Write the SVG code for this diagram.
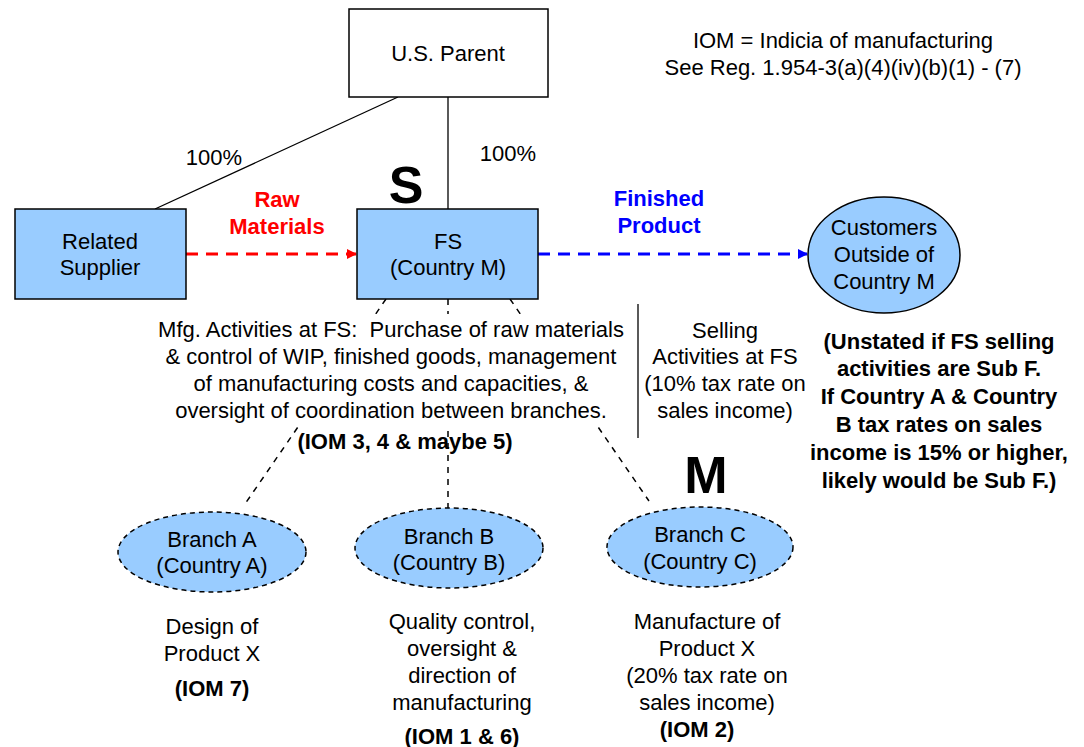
<svg xmlns="http://www.w3.org/2000/svg" width="1084" height="747" viewBox="0 0 1084 747">
<defs>
<style>
text{font-family:"Liberation Sans",Arial,sans-serif;font-size:22px;text-anchor:middle;fill:#000}
.b{font-weight:bold}
.big{font-weight:bold;font-size:52px}
.box{fill:#99CCFF;stroke:#000;stroke-width:1.5}
.dbox{fill:#99CCFF;stroke:#000;stroke-width:1.5;stroke-dasharray:5,4}
.ln{stroke:#000;stroke-width:1.3;fill:none}
.dl{stroke:#000;stroke-width:1.5;fill:none;stroke-dasharray:6,6}
</style>
<marker id="ar" markerWidth="10" markerHeight="10" refX="9" refY="5" orient="auto" markerUnits="userSpaceOnUse"><path d="M0,0L10,5L0,10z" fill="#FF0000"/></marker>
<marker id="ab" markerWidth="10" markerHeight="10" refX="9" refY="5" orient="auto" markerUnits="userSpaceOnUse"><path d="M0,0L10,5L0,10z" fill="#0000FF"/></marker>
</defs>
<rect width="1084" height="747" fill="#fff"/>
<g id="connectors">
<line class="ln" x1="398" y1="97" x2="155" y2="209"/>
<line class="ln" x1="448" y1="97" x2="448" y2="209"/>
<line x1="186" y1="254" x2="356" y2="254" stroke="#FF0000" stroke-width="3" stroke-dasharray="12,8" marker-end="url(#ar)"/>
<line x1="538" y1="254" x2="807" y2="254" stroke="#0000FF" stroke-width="3" stroke-dasharray="12,8" marker-end="url(#ab)"/>
<line class="dl" x1="386" y1="299" x2="245" y2="504"/>
<line class="dl" x1="448" y1="299" x2="448" y2="508"/>
<line class="dl" x1="510" y1="299" x2="649" y2="501"/>
<line class="ln" x1="638" y1="304" x2="638" y2="438"/>
<text x="214" y="165">100%</text>
<text x="508" y="161">100%</text>
<text x="277" y="207" class="b" style="fill:#FF0000">Raw</text>
<text x="277" y="234" class="b" style="fill:#FF0000">Materials</text>
<text x="659" y="206" class="b" style="fill:#0000FF">Finished</text>
<text x="659" y="233" class="b" style="fill:#0000FF">Product</text>
</g>
<g id="parent"><rect class="box" x="349" y="9" width="199" height="88" style="fill:#fff"/><text x="448" y="61">U.S. Parent</text></g>
<g id="supplier"><rect class="box" x="15" y="209" width="171" height="90"/><text x="100" y="249">Related</text><text x="100" y="275">Supplier</text></g>
<g id="fs"><rect class="box" x="357" y="209" width="181" height="90"/><text x="448" y="249">FS</text><text x="448" y="275">(Country M)</text><text x="406" y="203" class="big">S</text></g>
<g id="customers"><ellipse class="box" cx="884" cy="255" rx="76" ry="58"/><text x="884" y="235">Customers</text><text x="884" y="262">Outside of</text><text x="884" y="289">Country M</text></g>
<g id="note"><text x="843" y="48">IOM = Indicia of manufacturing</text><text x="843" y="75">See Reg. 1.954-3(a)(4)(iv)(b)(1) - (7)</text></g>
<g id="mfg"><rect x="158" y="314" width="468" height="111" fill="#fff"/>
<text x="391" y="337" xml:space="preserve" style="white-space:pre">Mfg. Activities at FS:  Purchase of raw materials</text>
<text x="391" y="364">&amp; control of WIP, finished goods, management</text>
<text x="391" y="391">of manufacturing costs and capacities, &amp;</text>
<text x="391" y="418">oversight of coordination between branches.</text>
<text x="405" y="449" class="b">(IOM 3, 4 &amp; maybe 5)</text></g>
<g id="selling"><text x="725" y="338">Selling</text><text x="725" y="364">Activities at FS</text><text x="725" y="391">(10% tax rate on</text><text x="725" y="418">sales income)</text></g>
<g id="subf"><text x="939" y="349" class="b">(Unstated if FS selling</text><text x="939" y="376" class="b">activities are Sub F.</text><text x="939" y="404" class="b">If Country A &amp; Country</text><text x="939" y="432" class="b">B tax rates on sales</text><text x="939" y="460" class="b">income is 15% or higher,</text><text x="939" y="488" class="b">likely would be Sub F.)</text></g>
<g id="branchA"><ellipse class="dbox" cx="212" cy="552" rx="94" ry="40"/><text x="212" y="547">Branch A</text><text x="212" y="573">(Country A)</text>
<text x="212" y="634">Design of</text><text x="212" y="661">Product X</text><text x="212" y="696" class="b">(IOM 7)</text></g>
<g id="branchB"><ellipse class="dbox" cx="449" cy="548" rx="94" ry="40"/><text x="449" y="544">Branch B</text><text x="449" y="570">(Country B)</text>
<text x="462" y="629">Quality control,</text><text x="462" y="656">oversight &amp;</text><text x="462" y="683">direction of</text><text x="462" y="710">manufacturing</text><text x="462" y="744" class="b">(IOM 1 &amp; 6)</text></g>
<g id="branchC"><ellipse class="dbox" cx="700" cy="547" rx="93" ry="40"/><text x="700" y="542">Branch C</text><text x="700" y="569">(Country C)</text><text x="706" y="493" class="big">M</text>
<text x="707" y="629">Manufacture of</text><text x="707" y="656">Product X</text><text x="707" y="683">(20% tax rate on</text><text x="707" y="710">sales income)</text><text x="697" y="737" class="b">(IOM 2)</text></g>
</svg>
